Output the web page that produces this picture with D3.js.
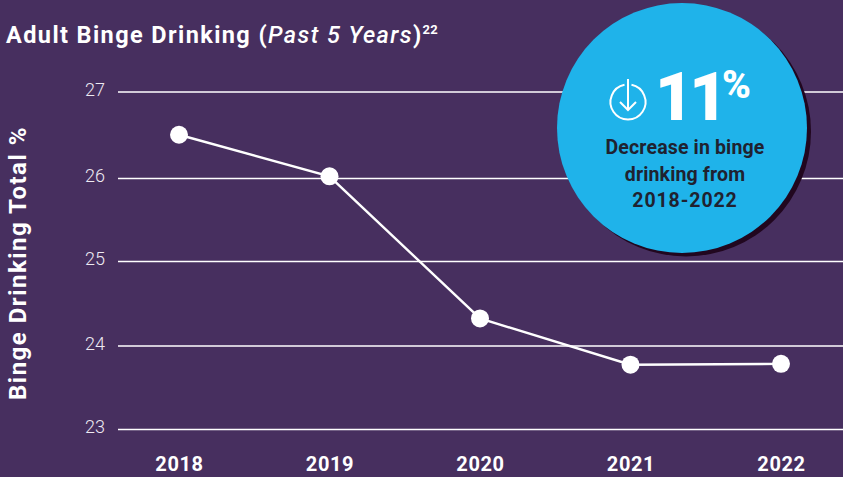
<!DOCTYPE html>
<html>
<head>
<meta charset="utf-8">
<script src="https://cdn.jsdelivr.net/npm/d3@7"></script>
<style>
  html, body { margin: 0; padding: 0; background: #472f5f; overflow: hidden; }
  svg { display: block; }
  text { font-family: "Roboto", "Open Sans", sans-serif; }
</style>
</head>
<body>
<svg id="chart"></svg>
<script>
var years = ['2018', '2019', '2020', '2021', '2022'];
var bingeValues = [26.5, 26.02, 24.32, 23.77, 23.78];
var yTicks = [23, 24, 25, 26, 27];
var calloutLines = ['Decrease in binge', 'drinking from', '2018-2022'];

var width = 843, height = 477;

var svg = d3.select('#chart').attr('width', width).attr('height', height);

var xScale = d3.scalePoint().domain(years).range([179, 781]);
// the grid in the original is not quite even, so the scale is piecewise
var yScale = d3.scaleLinear().domain(yTicks).range([429, 345.5, 261, 178, 91.5]);

// title
var title = svg.append('text')
  .attr('x', 6).attr('y', 43)
  .attr('fill', '#fff')
  .attr('font-size', 23.5)
  .attr('font-weight', 700)
  .style('letter-spacing', '1.4px');
title.append('tspan').text('Adult Binge Drinking (');
title.append('tspan').attr('font-style', 'italic').attr('font-weight', 500).text('Past 5 Years');
title.append('tspan').text(')');
title.append('tspan').attr('font-size', 13).attr('dy', -9).style('letter-spacing', '0.2px').text('22');

// y axis, ticks stretched over the plot as grid lines
var yAxis = d3.axisLeft(yScale)
  .tickValues(yTicks)
  .tickFormat(d3.format('d'))
  .tickSize(-(width - 118))
  .tickPadding(13);

var yAxisG = svg.append('g')
  .attr('transform', 'translate(118,0)')
  .call(yAxis);
yAxisG.select('.domain').remove();
yAxisG.selectAll('line').attr('stroke', '#fff').attr('stroke-width', 1.6);
yAxisG.selectAll('text')
  .attr('fill', '#eeeaf2')
  .attr('font-size', 18)
  .attr('font-weight', 300)
  .attr('y', -2)
  .style('font-family', '"Roboto", sans-serif');

// x axis labels
var xAxisG = svg.append('g')
  .attr('transform', 'translate(0,463)')
  .call(d3.axisBottom(xScale).tickSize(0).tickPadding(0));
xAxisG.select('.domain').remove();
xAxisG.selectAll('text')
  .attr('fill', '#fff')
  .attr('font-size', 20)
  .attr('font-weight', 700)
  .attr('dy', 0)
  .attr('y', 8)
  .style('letter-spacing', '0.6px')
  .style('font-family', '"Roboto", sans-serif');

svg.append('text')
  .attr('transform', 'translate(26,263) rotate(-90)')
  .attr('text-anchor', 'middle')
  .attr('fill', '#fff')
  .attr('font-size', 24)
  .attr('font-weight', 700)
  .style('letter-spacing', '1.5px')
  .text('Binge Drinking Total %');

// line and points
var line = d3.line()
  .x(function (d, i) { return xScale(years[i]); })
  .y(function (d) { return yScale(d); });

svg.append('path')
  .datum(bingeValues)
  .attr('d', line)
  .attr('fill', 'none')
  .attr('stroke', '#fff')
  .attr('stroke-width', 2.4);

svg.selectAll('.point')
  .data(bingeValues)
  .enter().append('circle')
  .attr('class', 'point')
  .attr('cx', function (d, i) { return xScale(years[i]); })
  .attr('cy', function (d) { return yScale(d); })
  .attr('r', 9)
  .attr('fill', '#fff');

// callout bubble
var bubble = svg.append('g').attr('transform', 'translate(682,128)');
bubble.append('circle').attr('cx', 4).attr('cy', 3.5).attr('r', 125).attr('fill', '#21071f');
bubble.append('circle').attr('r', 125).attr('fill', '#1fb3ea');

bubble.append('text')
  .attr('x', -27).attr('y', -8)
  .attr('fill', '#fff')
  .attr('font-size', 66)
  .attr('font-weight', 900)
  .style('letter-spacing', '-4px')
  .text('11');
bubble.append('text')
  .attr('x', 40).attr('y', -30)
  .attr('fill', '#fff')
  .attr('font-size', 39)
  .attr('font-weight', 900)
  .text('%');

// down arrow icon
var icon = bubble.append('g')
  .attr('transform', 'translate(-54,-26)')
  .attr('fill', 'none')
  .attr('stroke', '#fff')
  .attr('stroke-width', 2);
icon.append('path').attr('d', d3.arc()({
  innerRadius: 17.5, outerRadius: 17.5, startAngle: 0.2, endAngle: 2 * Math.PI - 0.2
}));
icon.append('path').attr('d', 'M0,-23V8M-8,0L0,8L8,0');

bubble.selectAll('.callout')
  .data(calloutLines)
  .enter().append('text')
  .attr('class', 'callout')
  .attr('x', 3)
  .attr('y', function (d, i) { return 26 + i * 26.5; })
  .attr('text-anchor', 'middle')
  .attr('fill', '#1f2230')
  .attr('font-size', 19.5)
  .attr('font-weight', 700)
  .style('letter-spacing', function (d, i) { return i === 2 ? '0.9px' : '0.15px'; })
  .text(function (d) { return d; });
</script>
</body>
</html>
